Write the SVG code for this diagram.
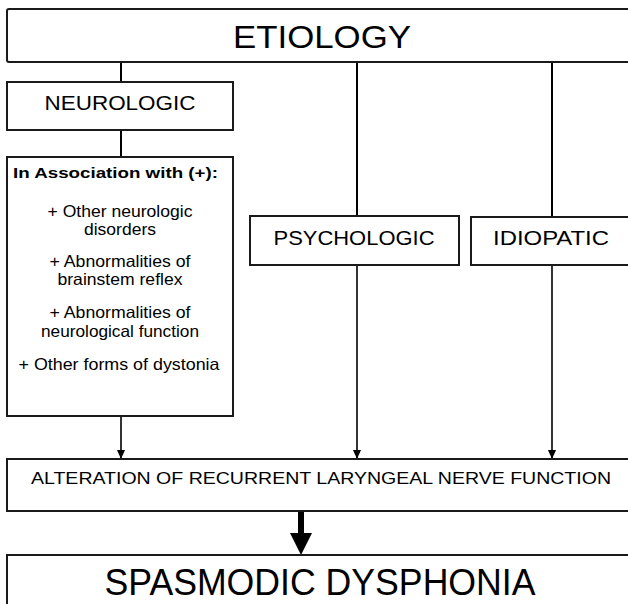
<svg xmlns="http://www.w3.org/2000/svg" width="628" height="604" viewBox="0 0 628 604">
<defs>
<style>
.box{fill:#fff;stroke:#1a1a1a;stroke-width:2}
.t{font-family:"Liberation Sans",Arial,sans-serif;fill:#000;text-anchor:middle}
.li{font-size:16.5px}
.ln{stroke:#000;stroke-width:2;fill:none}
.thin{stroke:#000;stroke-width:1.6;fill:none}
</style>
<marker id="ah" viewBox="0 0 9 8" refX="9" refY="4" markerWidth="9" markerHeight="8" markerUnits="userSpaceOnUse" orient="auto">
<path d="M0,0 L9,4 L0,8 Z" fill="#000"/>
</marker>
</defs>
<rect width="628" height="604" fill="#fff"/>
<g id="connectors">
<line class="ln" x1="121" y1="62" x2="121" y2="82"/>
<line class="ln" x1="121" y1="130" x2="121" y2="157"/>
<line class="ln" x1="357" y1="62" x2="357" y2="216"/>
<line class="ln" x1="552" y1="62" x2="552" y2="217"/>
<path d="M121,416 V459" class="thin" marker-end="url(#ah)"/>
<path d="M357,265 V459" class="thin" marker-end="url(#ah)"/>
<path d="M552,265 V459" class="thin" marker-end="url(#ah)"/>
<rect x="298" y="511" width="6" height="23" fill="#000"/>
<path d="M290,533 L312,533 L301,555 Z" fill="#000"/>
</g>
<g id="etiology">
<rect class="box" x="7" y="9" width="640" height="53" rx="2"/>
<text class="t" x="322" y="48" font-size="32" textLength="178" lengthAdjust="spacingAndGlyphs">ETIOLOGY</text>
</g>
<g id="neurologic">
<rect class="box" x="7" y="82" width="226" height="48"/>
<text class="t" x="120" y="110" font-size="21" textLength="151" lengthAdjust="spacingAndGlyphs">NEUROLOGIC</text>
</g>
<g id="association">
<rect class="box" x="7" y="157" width="226" height="259"/>
<text class="t" x="115.5" y="178" font-size="15.5" font-weight="bold" textLength="205" lengthAdjust="spacingAndGlyphs">In Association with (+):</text>
<text class="t li" x="120" y="217" textLength="145" lengthAdjust="spacingAndGlyphs">+ Other neurologic</text>
<text class="t li" x="120" y="235" textLength="72" lengthAdjust="spacingAndGlyphs">disorders</text>
<text class="t li" x="120" y="267" textLength="141" lengthAdjust="spacingAndGlyphs">+ Abnormalities of</text>
<text class="t li" x="120" y="285" textLength="125" lengthAdjust="spacingAndGlyphs">brainstem reflex</text>
<text class="t li" x="120" y="318" textLength="141" lengthAdjust="spacingAndGlyphs">+ Abnormalities of</text>
<text class="t li" x="120" y="337" textLength="158" lengthAdjust="spacingAndGlyphs">neurological function</text>
<text class="t li" x="119" y="370" textLength="201" lengthAdjust="spacingAndGlyphs">+ Other forms of dystonia</text>
</g>
<g id="psychologic">
<rect class="box" x="250" y="216" width="209" height="49"/>
<text class="t" x="354" y="245" font-size="21" textLength="161" lengthAdjust="spacingAndGlyphs">PSYCHOLOGIC</text>
</g>
<g id="idiopatic">
<rect class="box" x="471" y="217" width="180" height="48"/>
<text class="t" x="551" y="245" font-size="21" textLength="116" lengthAdjust="spacingAndGlyphs">IDIOPATIC</text>
</g>
<g id="alteration">
<rect class="box" x="7" y="459" width="640" height="52"/>
<text class="t" x="321" y="484" font-size="16.5" textLength="580" lengthAdjust="spacingAndGlyphs">ALTERATION OF RECURRENT LARYNGEAL NERVE FUNCTION</text>
</g>
<g id="spasmodic">
<rect class="box" x="7" y="555" width="640" height="70"/>
<text class="t" x="320" y="595" font-size="36" textLength="431" lengthAdjust="spacingAndGlyphs">SPASMODIC DYSPHONIA</text>
</g>
</svg>
